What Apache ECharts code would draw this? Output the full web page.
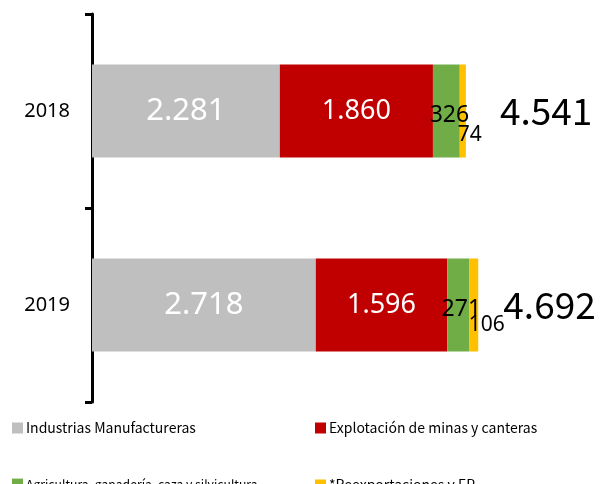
<!DOCTYPE html>
<html><head><meta charset="utf-8">
<script src="https://cdn.jsdelivr.net/npm/echarts@6/dist/echarts.min.js"></script>
<style>html,body{margin:0;padding:0;background:#fff}#c{width:602px;height:484px}</style>
</head><body><div id="c"></div>
<script>
const years = ['2018', '2019'];
const manufactureras = [2281, 2718];
const mineria = [1860, 1596];
const agricultura = [326, 271];
const reexportaciones = [74, 106];
const totales = [4541, 4692];
const seriesNames = ['Industrias Manufactureras', 'Explotación de minas y canteras', 'Agricultura, ganadería, caza y silvicultura', '*Reexportaciones y EP.'];
const colors = ['#BFBFBF', '#C00000', '#70AD47', '#FFC000'];

const FONT = 'Noto Sans';
const NARROW = "'Noto Sans CJK KR', sans-serif";
const LEGFONT = "'Noto Sans CJK KR', 'Noto Sans', sans-serif";
const fmt = v => String(v).replace(/\B(?=(\d{3})+(?!\d))/g, '.');
const totalGap = [34, 25];
const reexpOffset = [[7, 24], [13, 20]];

const chart = echarts.init(document.getElementById('c'));
const base = {type: 'bar', stack: 'x', barWidth: 93};
const legendPos = [[12, 421], [315, 421], [12, 478], [315, 478]];
const legendSize = [14, 14, 12.2, 14];
chart.setOption({
  animation: false,
  textStyle: {fontFamily: FONT},
  grid: {left: 92, right: 16, top: 14, height: 388},
  xAxis: {type: 'value', min: 0, max: 6000, show: false},
  yAxis: {
    type: 'category', data: years, inverse: true,
    axisLine: {show: true, lineStyle: {color: '#000', width: 3}},
    axisTick: {show: true, length: 7, lineStyle: {color: '#000', width: 3}},
    axisLabel: {color: '#000', fontSize: 20, margin: 22, fontFamily: FONT}
  },
  legend: seriesNames.map((n, i) => ({
    left: legendPos[i][0], top: legendPos[i][1], padding: 0, itemWidth: 11, itemHeight: 11, icon: 'rect',
    textStyle: {fontSize: legendSize[i], color: '#000', fontFamily: LEGFONT, padding: [0, 0, 0, -2]}, data: [n]
  })),
  series: [
    Object.assign({}, base, {name: seriesNames[0], data: manufactureras, itemStyle: {color: colors[0]},
      label: {show: true, position: 'inside', color: '#fff', fontSize: 31, formatter: p => fmt(p.value)}}),
    Object.assign({}, base, {name: seriesNames[1], data: mineria, itemStyle: {color: colors[1]},
      label: {show: true, position: 'inside', color: '#fff', fontSize: 27, formatter: p => fmt(p.value)}}),
    Object.assign({}, base, {name: seriesNames[2], data: agricultura, itemStyle: {color: colors[2]},
      label: {show: true, position: 'inside', color: '#000', fontSize: 23, offset: [3, 4], formatter: p => fmt(p.value)}}),
    Object.assign({}, base, {name: seriesNames[3], itemStyle: {color: colors[3]},
      data: reexportaciones.map((v, i) => ({value: v, label: {offset: reexpOffset[i]}})),
      label: {show: true, position: 'inside', color: '#000', fontSize: 21, formatter: p => fmt(p.value)}}),
    {type: 'bar', name: 'Total', barWidth: 93, barGap: '-100%', silent: true, z: 1,
     itemStyle: {color: 'rgba(0,0,0,0)'},
     data: totales.map((v, i) => ({value: v, label: {distance: totalGap[i]}})),
     label: {show: true, position: 'right', color: '#000', fontSize: 37, fontFamily: NARROW, formatter: p => fmt(p.value)}}
  ]
});
</script></body></html>
